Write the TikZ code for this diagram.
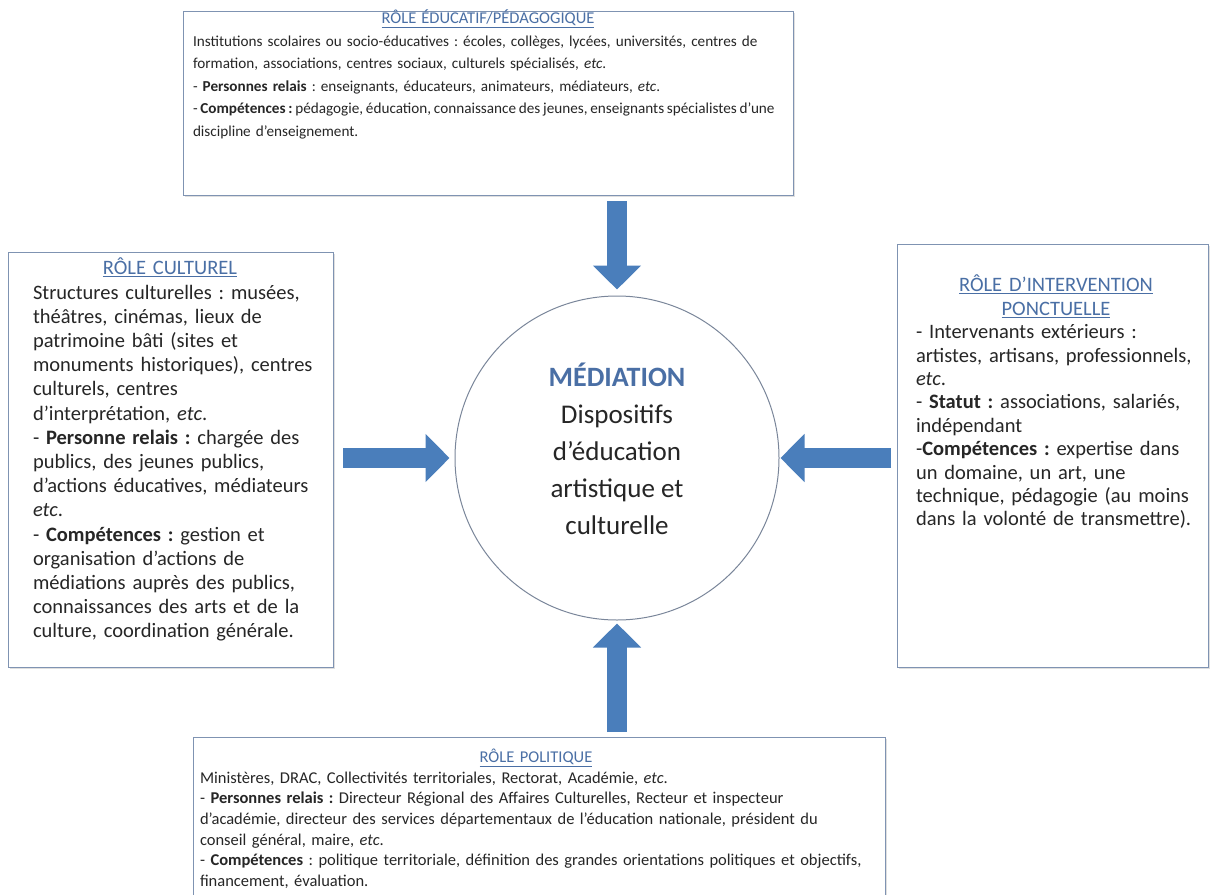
\documentclass[tikz,border=0pt]{standalone}
\usepackage{fontspec}
\setmainfont{Carlito}
\usepackage{xcolor}
\usepackage{tikz}
\usetikzlibrary{shapes,arrows.meta,positioning,shadows}

\definecolor{boxline}{HTML}{7F93B2}
\definecolor{titleblue}{HTML}{4A6FA5}
\definecolor{flowblue}{HTML}{4A7EBB}
\definecolor{ringline}{HTML}{7A869A}
\definecolor{bodytext}{HTML}{262626}

\newcommand{\roletitle}[1]{\textcolor{titleblue}{\underline{#1}}}
\frenchspacing

\begin{document}
\begin{tikzpicture}[
  x=1pt,
  y=-1pt,
  rolebox/.style={
    rectangle,
    draw=boxline,
    line width=1.2pt,
    fill=white,
    anchor=north west,
    drop shadow={shadow xshift=1pt,shadow yshift=-1.5pt,opacity=0.25}
  },
  widetext/.style={
    anchor=north,
    inner sep=0pt,
    text width=612pt,
    align=left,
    text=bodytext,
    font=\fontsize{15.2}{22.5}\selectfont
  },
  sidetext/.style={
    anchor=north,
    inner sep=0pt,
    text width=280pt,
    align=left,
    text=bodytext,
    font=\fontsize{20.5}{24.2}\selectfont
  },
  hub/.style={
    circle,
    draw=ringline,
    line width=1pt,
    fill=white,
    minimum size=324pt
  },
  hubtext/.style={
    align=center,
    inner sep=0pt,
    text=bodytext,
    font=\fontsize{27}{37}\selectfont
  },
  bigarrow/.style={
    draw=flowblue,
    line width=20pt,
    -{Triangle[width=47pt,length=24pt]}
  }
]
  \useasboundingbox (0,0) rectangle (1215,894);

  % Role boxes
  \node[rolebox, minimum width=610pt, minimum height=184pt] (educ) at (183,11) {};
  \node[rolebox, minimum width=325pt, minimum height=415pt] (cult) at (8,252) {};
  \node[rolebox, minimum width=311pt, minimum height=423pt] (inter) at (897,244) {};
  \node[rolebox, minimum width=692pt, minimum height=170pt] (polit) at (193,737) {};

  % Educational role
  \node[widetext] (educ-txt) at (499,10) {%
    \makebox[\linewidth][c]{{\fontsize{16.5}{22.5}\selectfont\roletitle{RÔLE ÉDUCATIF/PÉDAGOGIQUE}}\hspace*{22pt}}\\
    Institutions scolaires ou socio-éducatives : écoles, collèges, lycées, universités, centres de\\
    formation, associations, centres sociaux, culturels spécialisés, \textit{etc}.\\
    - \textbf{Personnes relais} : enseignants, éducateurs, animateurs, médiateurs, \textit{etc}.\\
    {\spaceskip=0.8\fontdimen2\font - \textbf{Compétences :} pédagogie, éducation, connaissance des jeunes, enseignants spécialistes d’une}\\
    discipline d’enseignement.};

  % Cultural role
  \node[sidetext] (cult-txt) at (173,258) {%
    \makebox[\linewidth][c]{\roletitle{RÔLE CULTUREL}\hspace*{6pt}}\\
    Structures culturelles : musées,\\
    théâtres, cinémas, lieux de\\
    patrimoine bâti (sites et\\
    monuments historiques), centres\\
    culturels, centres\\
    d’interprétation, \textit{etc}.\\
    - \textbf{Personne relais :} chargée des\\
    publics, des jeunes publics,\\
    d’actions éducatives, médiateurs\\
    \textit{etc}.\\
    - \textbf{Compétences :} gestion et\\
    organisation d’actions de\\
    médiations auprès des publics,\\
    connaissances des arts et de la\\
    culture, coordination générale.};

  % Occasional intervention role
  \node[sidetext, font=\fontsize{20.5}{23.4}\selectfont] (inter-txt) at (1056,275) {%
    \makebox[\linewidth][c]{\roletitle{RÔLE D’INTERVENTION}}\\
    \makebox[\linewidth][c]{\roletitle{PONCTUELLE}}\\
    - Intervenants extérieurs :\\
    artistes, artisans, professionnels,\\
    \textit{etc}.\\
    - \textbf{Statut :} associations, salariés,\\
    indépendant\\
    -\textbf{Compétences :} expertise dans\\
    un domaine, un art, une\\
    technique, pédagogie (au moins\\
    dans la volonté de transmettre).};

  % Political role
  \node[widetext, text width=672pt, font=\fontsize{16.5}{20.6}\selectfont] (polit-txt) at (536,749) {%
    \makebox[\linewidth][c]{\roletitle{RÔLE POLITIQUE}}\\
    Ministères, DRAC, Collectivités territoriales, Rectorat, Académie, \textit{etc}.\\
    - \textbf{Personnes relais :} Directeur Régional des Affaires Culturelles, Recteur et inspecteur\\
    d’académie, directeur des services départementaux de l’éducation nationale, président du\\
    conseil général, maire, \textit{etc}.\\
    - \textbf{Compétences} : politique territoriale, définition des grandes orientations politiques et objectifs,\\
    financement, évaluation.};

  % Mediation
  \node[hub] (med) at (617,458) {};
  \node[hubtext] (med-txt) at ([yshift=9pt]med.center) {%
    {\fontsize{28}{37}\selectfont\bfseries\color{titleblue}MÉDIATION}\\
    Dispositifs\\
    d’éducation\\
    artistique et\\
    culturelle};

  % Arrows into the mediation
  \draw[bigarrow, shorten <=5pt, shorten >=6pt] (med.north |- educ.south) -- (med.north);
  \draw[bigarrow, shorten <=9pt, shorten >=5pt] (cult.east |- med.west) -- (med.west);
  \draw[bigarrow, shorten <=6pt, shorten >=1pt] (inter.west |- med.east) -- (med.east);
  \draw[bigarrow, shorten <=5pt, shorten >=3pt] (med.south |- polit.north) -- (med.south);

\end{tikzpicture}
\end{document}
